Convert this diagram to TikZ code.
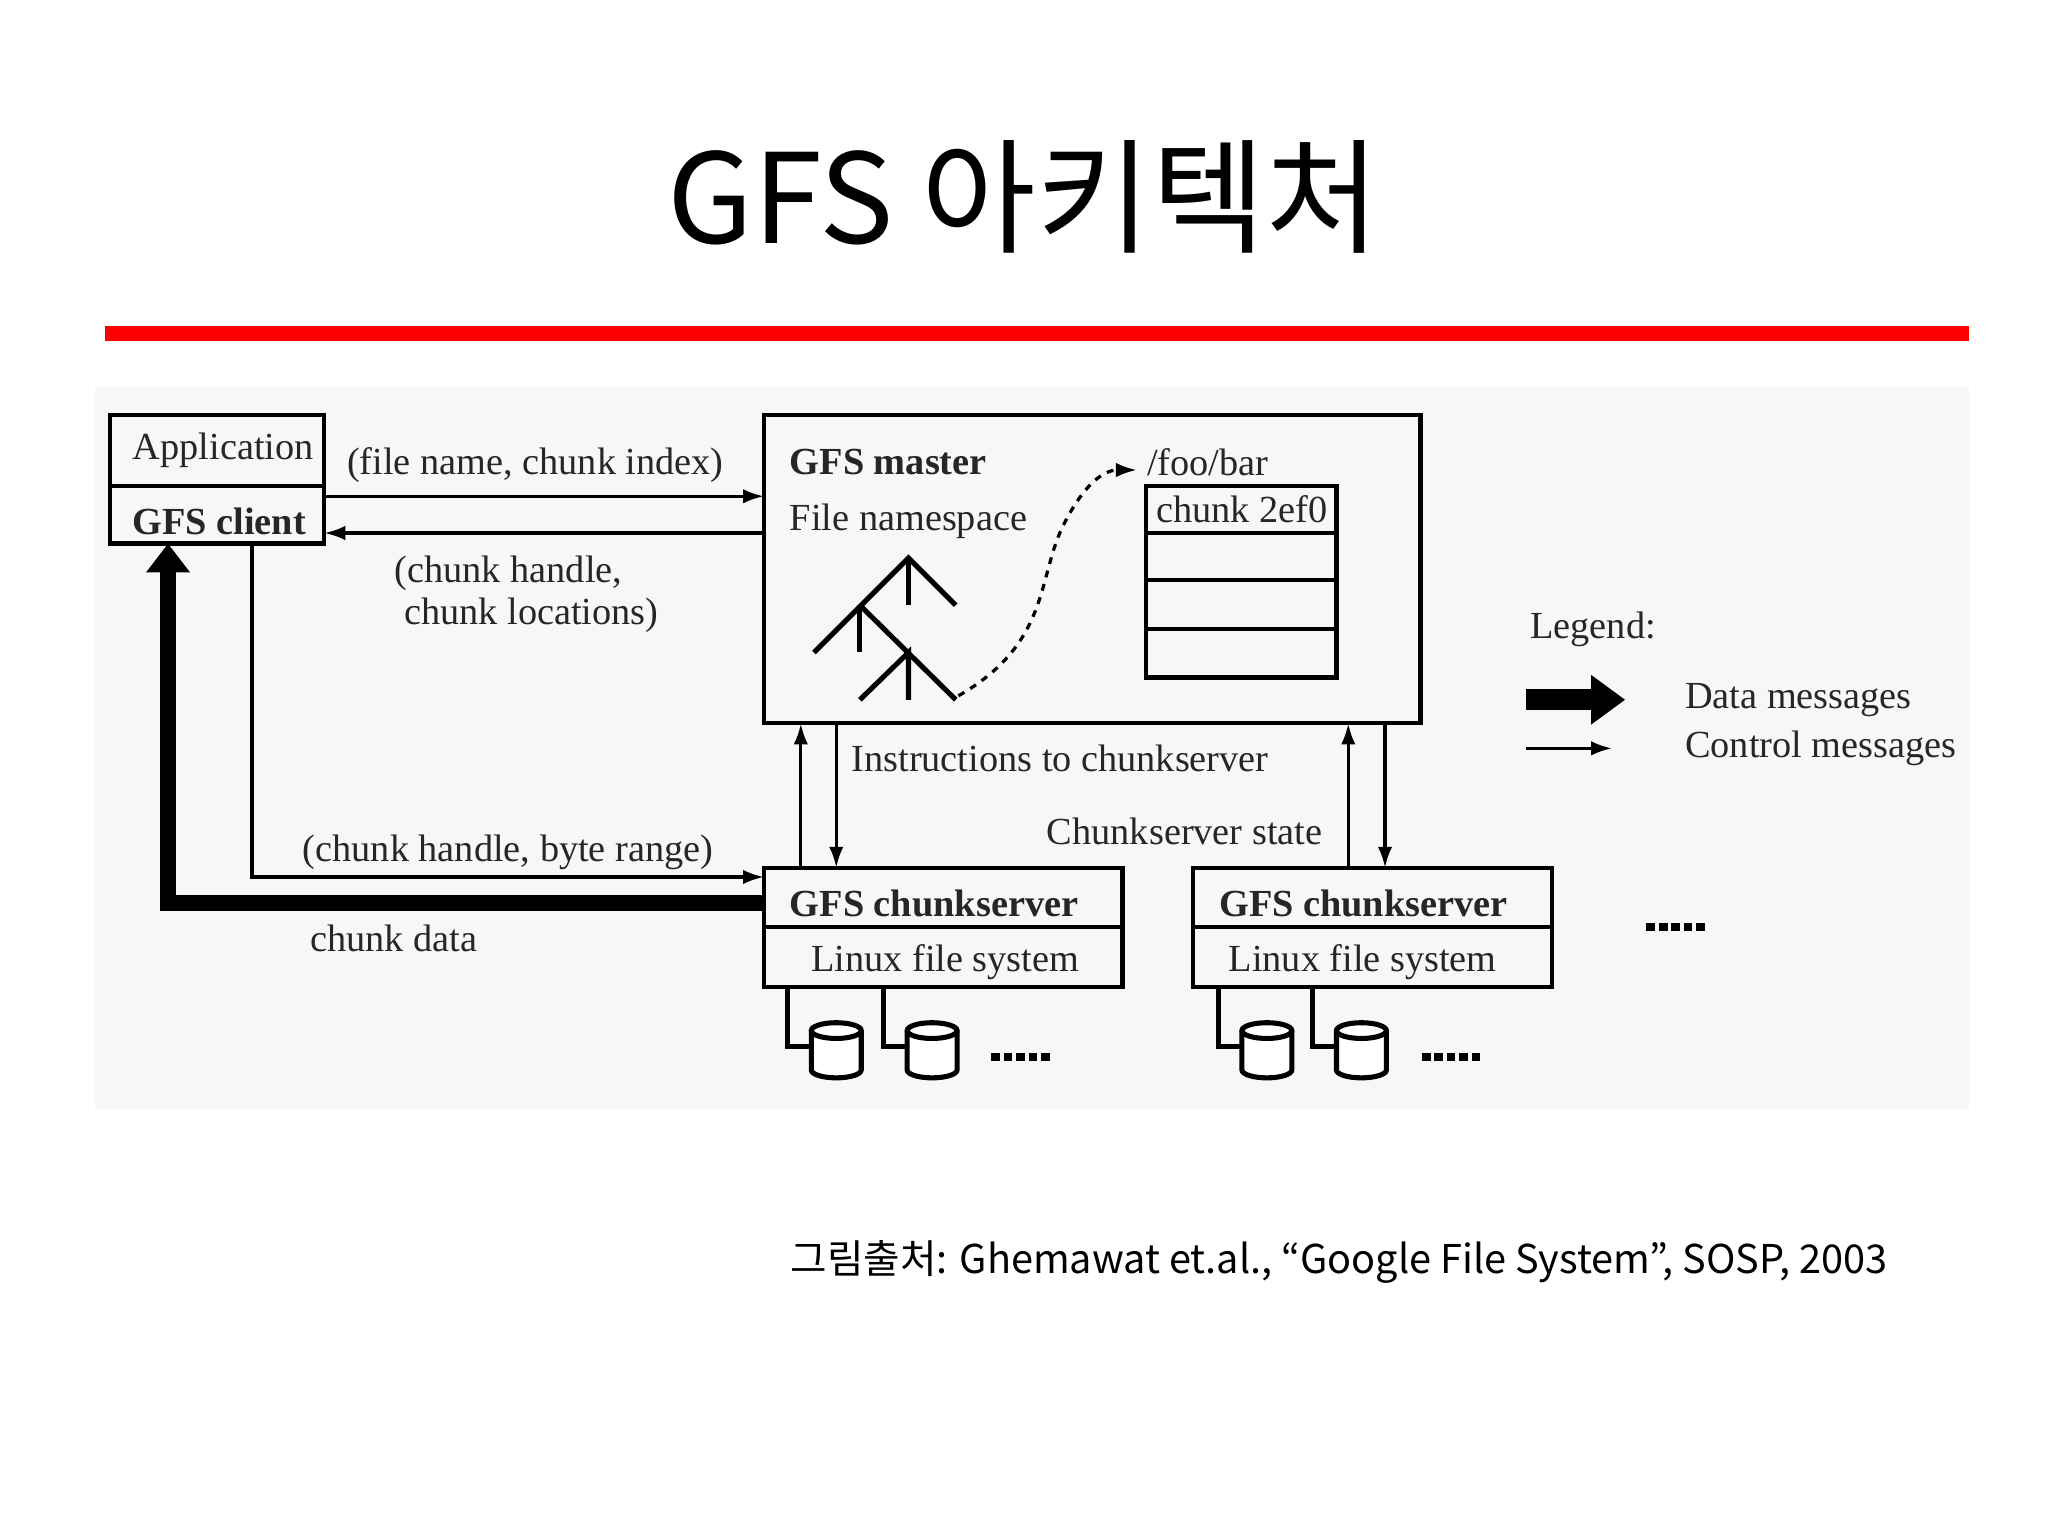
\documentclass[tikz,border=0pt]{standalone}
\usepackage{fontspec}
\setmainfont{Liberation Serif}
\newfontfamily\kr{Noto Sans CJK KR}
\usetikzlibrary{arrows.meta}
\begin{document}
\begin{tikzpicture}[x=0.1mm,y=-0.1mm,
  txt/.style={font=\fontsize{8.3}{9}\selectfont, inner sep=0pt, text=black!85},
  bx/.style={draw, line width=0.9pt},
  ctl/.style={line width=0.7pt, -{Latex[length=1.6mm,width=1.1mm]}},
  dots/.style={line width=1.6pt, dash pattern=on 1.9pt off 0.8pt}]
\useasboundingbox (0,0) rectangle (1560,1170);
\fill[white] (0,0) rectangle (1560,1170);
\fill[black!3] (72,295) rectangle (1500,845);
\node[font=\kr\fontsize{27}{30}\selectfont] (title) at (780,150) {GFS 아키텍처};
\fill[red] (80,248) rectangle (1500,260);
% app box
\draw[bx] (84,316) rectangle (247,414);
\draw[bx] (84,370) -- (247,370);
\node[txt] (app) at (170,343) {Application};
\node[txt,font=\fontsize{8.3}{9}\selectfont\bfseries] (cli) at (167,397) {GFS client};
\coordinate (appR1) at (247,378); \coordinate (appR2) at (247,406);
% master
\draw[bx] (582,316) rectangle (1082,551);
\node[txt,anchor=west,font=\fontsize{8.3}{9}\selectfont\bfseries] (gm) at (601,352) {GFS master};
\node[txt,anchor=west] (fn) at (601,397) {File namespace};
\node[txt,anchor=west] (foo) at (873,352) {/foo/bar};
\draw[bx] (873,370) rectangle (1018,516);
\foreach \y in {406,442,479} \draw[bx] (873,\y) -- (1018,\y);
\node[txt] (ck) at (946,388) {chunk 2ef0};
% tree
\draw[line width=1.1pt] (620,497) -- (692,425) -- (728,461);
\draw[line width=1.1pt] (692,425) -- (692,461);
\draw[line width=1.1pt] (655,461) -- (728,533);
\draw[line width=1.1pt] (655,461) -- (655,497);
\draw[line width=1.1pt] (655,533) -- (692,497) -- (692,533);
\coordinate (treeEnd) at (730,530);
\draw[line width=0.7pt, dash pattern=on 1.5pt off 1.5pt, -{Latex[length=1.6mm,width=1.1mm]}] (treeEnd) .. controls (800,490) and (790,440) .. (810,400) .. controls (825,370) and (840,358) .. (866,358);
% client-master arrows
\coordinate (mL1) at (582,378); \coordinate (mL2) at (582,406);
\draw[ctl] (appR1) -- node[txt,above=0.9mm,pos=0.48] {(file name, chunk index)} (mL1);
\draw[ctl] (mL2) -- (appR2);
\node[txt,align=left,anchor=north west] (ch) at (300,423) {(chunk handle,\\\ chunk locations)};
% chunkservers
\draw[bx] (582,661) rectangle (855,752); \draw[bx] (582,706) -- (855,706);
\node[txt,anchor=west,font=\fontsize{8.3}{9}\selectfont\bfseries] (cs1) at (601,688) {GFS chunkserver};
\node[txt] (lf1) at (720,733) {Linux file system};
\draw[bx] (909,661) rectangle (1182,752); \draw[bx] (909,706) -- (1182,706);
\node[txt,anchor=west,font=\fontsize{8.3}{9}\selectfont\bfseries] (cs2) at (928,688) {GFS chunkserver};
\node[txt] (lf2) at (1038,733) {Linux file system};
% client to chunkserver
\coordinate (c1) at (192,414); \coordinate (cs1L) at (582,668);
\draw[ctl] (c1) -- (192,668) -- node[txt,above=0.4mm,pos=0.5] {(chunk handle, byte range)} (cs1L);
\coordinate (cs1D) at (582,688); \coordinate (cB) at (128,414);
\draw[line width=3.4pt,-{Triangle[length=2.2mm,width=3.2mm]}] (cs1D) -- (128,688) -- (cB);
\node[txt] (cd) at (300,715) {chunk data};
% master-chunkserver
\draw[ctl] (610,661) -- (610,551);
\draw[ctl] (637,551) -- (637,661);
\draw[ctl] (1027,661) -- (1027,551);
\draw[ctl] (1055,551) -- (1055,661);
\node[txt,anchor=west] (ins) at (648,578) {Instructions to chunkserver};
\node[txt,anchor=east] (st) at (1008,633) {Chunkserver state};
% disks
\foreach \bx/\cx in {600/637,673/710,928/965,1000/1037}{
  \draw[line width=1.1pt] (\bx,752) -- (\bx,797) -- (\cx-19,797);
  \draw[line width=1.1pt,fill=white] (\cx-19,785) -- (\cx-19,815) arc[start angle=180,end angle=0,x radius=19,y radius=6] -- (\cx+19,785);
  \draw[line width=1.1pt,fill=white] (\cx,785) ellipse[x radius=19,y radius=6];
}
\draw[dots] (755,805) -- (800,805);
\draw[dots] (1083,805) -- (1128,805);
\draw[dots] (1254,706) -- (1300,706);
% legend
\node[txt,anchor=west] (lg) at (1165,479) {Legend:};
\coordinate (l1a) at (1162,533); \coordinate (l1b) at (1238,533);
\draw[line width=4.5pt,-{Triangle[length=2.6mm,width=3.6mm]}] (l1a) -- (l1b);
\coordinate (l2a) at (1162,570); \coordinate (l2b) at (1228,570);
\draw[ctl] (l2a) -- (l2b);
\node[txt,anchor=west] (dm) at (1283,533) {Data messages};
\node[txt,anchor=west] (cm) at (1283,570) {Control messages};
% footer
\node[anchor=east,font=\kr\fontsize{8.6}{10}\selectfont] (ft) at (1450,961) {그림출처: Ghemawat et.al., “Google File System”, SOSP, 2003};
\end{tikzpicture}
\end{document}
